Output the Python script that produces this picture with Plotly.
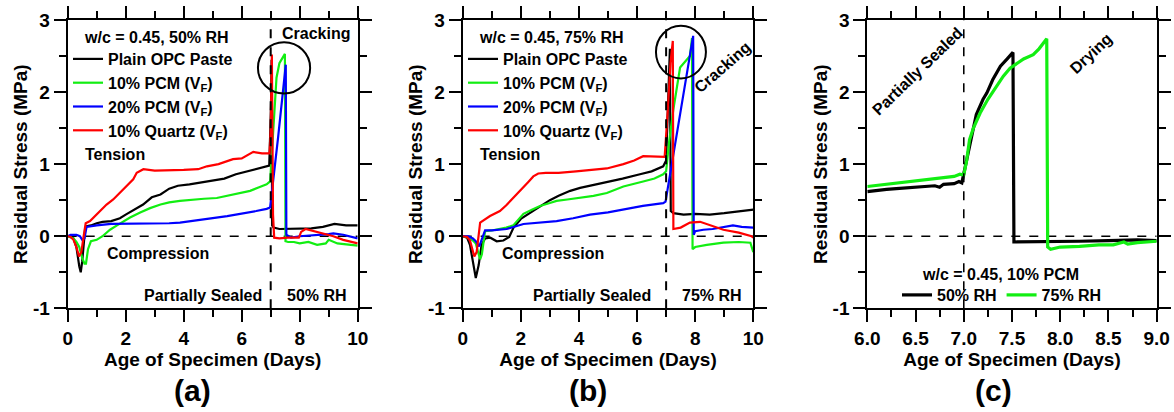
import plotly.graph_objects as go

# ---------------- data: residual stress (MPa) vs age (days) ----------------
# (a) w/c = 0.45, drying at 50% RH after 7 days
a_opc_x = [0, 0.1, 0.2, 0.3, 0.4, 0.45, 0.5, 0.55, 0.6, 0.65, 0.8, 1.0, 1.2, 1.5, 1.8, 2.0, 2.3,
           2.6, 2.9, 3.2, 3.5, 3.8, 4.2, 4.6, 5.0, 5.4, 5.8, 6.2, 6.6, 6.95, 7.01, 7.03, 7.05,
           7.1, 7.3, 7.6, 8.0, 8.4, 8.8, 9.2, 9.6, 10]
a_opc_y = [0, 0, -0.03, -0.15, -0.42, -0.5, -0.35, -0.1, 0.1, 0.14, 0.15, 0.18, 0.2, 0.21, 0.25,
           0.3, 0.37, 0.44, 0.54, 0.58, 0.66, 0.7, 0.72, 0.75, 0.78, 0.8, 0.86, 0.9, 0.94, 0.98,
           1.8, 2.45, 0.15, 0.12, 0.1, 0.1, 0.1, 0.11, 0.13, 0.17, 0.15, 0.15]

a_pcm10_x = [0, 0.2, 0.3, 0.4, 0.5, 0.58, 0.63, 0.7, 0.8, 1.0, 1.2, 1.46, 1.7, 1.9, 2.15, 2.5,
             2.84, 3.2, 3.5, 3.87, 4.3, 4.7, 5.14, 5.5, 5.9, 6.29, 6.6, 6.86, 6.98, 7.05, 7.1,
             7.2, 7.3, 7.4, 7.49, 7.51, 7.6, 7.8, 8.0, 8.3, 8.6, 8.9, 9.0, 9.3, 9.6, 10]
a_pcm10_y = [0, -0.03, -0.08, -0.15, -0.3, -0.38, -0.38, -0.18, -0.07, -0.05, 0.0, 0.09, 0.15,
             0.2, 0.26, 0.33, 0.39, 0.44, 0.47, 0.49, 0.51, 0.52, 0.53, 0.56, 0.6, 0.63, 0.68,
             0.72, 0.76, 1.2, 1.6, 2.2, 2.4, 2.47, 2.53, -0.07, -0.08, -0.08, -0.1, -0.08, -0.12,
             -0.1, -0.05, -0.1, -0.11, -0.13]

a_pcm20_x = [0, 0.1, 0.3, 0.42, 0.5, 0.58, 0.65, 0.8, 1.0, 1.5, 2.0, 2.5, 3.0, 3.5, 3.87, 4.5,
             5.0, 5.5, 6.0, 6.5, 6.86, 6.98, 7.26, 7.52, 7.54, 7.7, 8.0, 8.5, 9.0, 9.16, 9.5, 10]
a_pcm20_y = [0, 0.02, 0.02, 0.0, -0.05, -0.03, 0.13, 0.14, 0.15, 0.17, 0.17, 0.17, 0.17, 0.18,
             0.19, 0.22, 0.25, 0.28, 0.31, 0.35, 0.38, 0.4, 1.39, 2.38, 0.02, -0.02, 0.0, 0.01,
             0.03, 0.04, 0.02, -0.03]

a_quartz_x = [0, 0.1, 0.2, 0.3, 0.39, 0.47, 0.55, 0.62, 0.77, 1.0, 1.34, 1.57, 1.92, 2.26, 2.38,
              2.61, 3.0, 3.5, 4.0, 4.5, 4.8, 5.2, 5.7, 6.0, 6.4, 6.7, 6.96, 7.0, 7.04, 7.08,
              7.12, 7.3, 7.6, 7.97, 8.05, 8.2, 8.5, 9.16, 9.5, 10]
a_quartz_y = [0, -0.01, -0.05, -0.15, -0.28, -0.22, 0.0, 0.18, 0.21, 0.3, 0.44, 0.51, 0.65, 0.79,
              0.88, 0.93, 0.91, 0.91, 0.92, 0.93, 0.97, 1.0, 1.07, 1.08, 1.17, 1.15, 1.15, 1.5,
              2.52, 0.3, -0.02, -0.03, -0.02, -0.02, 0.06, 0.1, 0.07, 0.0, -0.05, -0.1]

# (b) w/c = 0.45, drying at 75% RH after 7 days
b_opc_x = [0, 0.15, 0.25, 0.35, 0.45, 0.55, 0.65, 0.77, 0.95, 1.17, 1.4, 1.6, 1.75, 2.0, 2.3,
           2.66, 3.0, 3.3, 3.7, 4.04, 4.5, 4.96, 5.5, 6.1, 6.5, 6.9, 7.0, 7.13, 7.16, 7.25,
           7.6, 8.0, 8.5, 9.0, 9.5, 10]
b_opc_y = [0, -0.02, -0.12, -0.35, -0.58, -0.4, -0.12, -0.03, -0.02, -0.07, -0.06, -0.01, 0.12,
           0.24, 0.32, 0.42, 0.5, 0.56, 0.63, 0.67, 0.71, 0.76, 0.8, 0.86, 0.9, 0.97, 1.05, 2.6,
           0.35, 0.32, 0.3, 0.31, 0.3, 0.32, 0.34, 0.37]

b_pcm10_x = [0, 0.2, 0.35, 0.45, 0.55, 0.6, 0.66, 0.77, 1.0, 1.28, 1.5, 1.74, 2.09, 2.4, 2.66,
             3.0, 3.23, 3.6, 4.04, 4.5, 4.96, 5.53, 6.21, 6.6, 6.9, 7.0, 7.1, 7.25, 7.48, 7.6,
             7.82, 7.89, 7.91, 8.0, 8.4, 8.97, 9.5, 9.9, 10]
b_pcm10_y = [0, -0.02, -0.06, -0.1, -0.25, -0.32, -0.25, 0.07, 0.08, 0.1, 0.12, 0.15, 0.31, 0.37,
             0.42, 0.46, 0.49, 0.51, 0.53, 0.56, 0.6, 0.69, 0.76, 0.8, 0.86, 0.9, 1.3, 1.76,
             2.34, 2.4, 2.5, 2.75, -0.18, -0.15, -0.12, -0.09, -0.08, -0.09, -0.22]

b_pcm20_x = [0, 0.2, 0.35, 0.45, 0.57, 0.65, 0.77, 1.0, 1.51, 2.09, 2.6, 3.23, 3.8, 4.38, 5.0,
             5.53, 6.2, 6.9, 6.98, 7.93, 7.95, 8.0, 8.28, 8.6, 8.97, 9.3, 9.6, 10]
b_pcm20_y = [0, 0.0, -0.03, -0.07, -0.14, -0.05, 0.08, 0.08, 0.1, 0.17, 0.19, 0.21, 0.25, 0.3,
             0.33, 0.37, 0.42, 0.46, 0.48, 2.78, 0.02, 0.07, 0.09, 0.1, 0.13, 0.15, 0.13, 0.12]

b_quartz_x = [0, 0.15, 0.25, 0.32, 0.4, 0.48, 0.55, 0.6, 0.94, 1.28, 1.5, 1.74, 2.09, 2.25, 2.43,
              2.6, 2.86, 3.3, 3.9, 4.5, 4.96, 5.53, 5.9, 6.21, 6.6, 6.95, 7.05, 7.15, 7.23,
              7.25, 7.5, 7.82, 8.17, 8.5, 8.97, 9.5, 9.94, 10]
b_quartz_y = [0, -0.01, -0.06, -0.15, -0.28, -0.22, 0.0, 0.19, 0.28, 0.35, 0.43, 0.53, 0.67,
              0.75, 0.83, 0.87, 0.88, 0.88, 0.9, 0.92, 0.94, 1.0, 1.05, 1.11, 1.1, 1.1, 1.7,
              2.4, 2.71, 0.1, 0.12, 0.19, 0.2, 0.15, 0.09, 0.05, 0.0, -0.02]

# (c) w/c = 0.45, 10% PCM: 50% RH vs 75% RH around the cracking event
c_rh50_x = [6.0, 6.05, 6.1, 6.2, 6.3, 6.4, 6.48, 6.6, 6.7, 6.75, 6.79, 6.9, 6.95, 6.98, 7.03,
            7.08, 7.13, 7.2, 7.24, 7.3, 7.38, 7.45, 7.51, 7.52, 7.7, 7.9, 8.2, 8.5, 8.8, 9.0]
c_rh50_y = [0.62, 0.63, 0.64, 0.65, 0.66, 0.67, 0.67, 0.68, 0.7, 0.68, 0.72, 0.73, 0.76, 0.74,
            1.07, 1.38, 1.69, 1.9, 1.99, 2.17, 2.36, 2.46, 2.55, -0.08, -0.08, -0.07, -0.07,
            -0.06, -0.05, -0.06]

c_rh75_x = [6.0, 6.2, 6.4, 6.6, 6.8, 6.9, 6.96, 7.0, 7.03, 7.06, 7.1, 7.17, 7.25, 7.34, 7.41,
            7.48, 7.55, 7.62, 7.72, 7.78, 7.86, 7.87, 7.9, 7.95, 8.0, 8.2, 8.4, 8.55, 8.66, 8.7,
            8.8, 9.0]
c_rh75_y = [0.69, 0.72, 0.75, 0.78, 0.81, 0.83, 0.86, 0.85, 1.05, 1.34, 1.5, 1.71, 1.9, 2.08,
            2.22, 2.33, 2.4, 2.46, 2.52, 2.6, 2.74, -0.15, -0.18, -0.17, -0.15, -0.14, -0.12,
            -0.12, -0.08, -0.11, -0.09, -0.07]

# stress axis ticks
stress_ticks = [-1, 0, 1, 2, 3]
stress_labels = ["-1", "0", "1", "2", "3"]

# reference lines and highlight circles (data units)
ZERO_STRESS = 0
SEAL_END_DAY = 7
crack_circle_a = dict(x0=6.56, x1=8.36, y0=1.98, y1=2.69)
crack_circle_b = dict(x0=6.65, x1=8.37, y0=2.19, y1=2.92)

# ---------------- styling ----------------
FONT = "Liberation Sans, Arial, sans-serif"
BLACK, GREEN, BLUE, RED = "#000000", "#12ee12", "#0000ff", "#ff0000"
W, H = 1174, 412


def fx(p):
    return p / W


def fy(p):
    return 1 - p / H


fig = go.Figure()

series_ab = [
    ("Plain OPC Paste", BLACK),
    ("10% PCM (V<sub>F</sub>)", GREEN),
    ("20% PCM (V<sub>F</sub>)", BLUE),
    ("10% Quartz (V<sub>F</sub>)", RED),
]
panel_a = [(a_opc_x, a_opc_y), (a_pcm10_x, a_pcm10_y), (a_pcm20_x, a_pcm20_y), (a_quartz_x, a_quartz_y)]
panel_b = [(b_opc_x, b_opc_y), (b_pcm10_x, b_pcm10_y), (b_pcm20_x, b_pcm20_y), (b_quartz_x, b_quartz_y)]

for (name, col), (xs, ys) in zip(series_ab, panel_a):
    fig.add_trace(go.Scatter(x=xs, y=ys, mode="lines", name=name, line=dict(color=col, width=2.2),
                             xaxis="x", yaxis="y", legend="legend"))
for (name, col), (xs, ys) in zip(series_ab, panel_b):
    fig.add_trace(go.Scatter(x=xs, y=ys, mode="lines", name=name, line=dict(color=col, width=2.2),
                             xaxis="x2", yaxis="y2", legend="legend2"))
fig.add_trace(go.Scatter(x=c_rh50_x, y=c_rh50_y, mode="lines", name="50% RH",
                         line=dict(color=BLACK, width=3.2), xaxis="x3", yaxis="y3", legend="legend3"))
fig.add_trace(go.Scatter(x=c_rh75_x, y=c_rh75_y, mode="lines", name="75% RH",
                         line=dict(color=GREEN, width=3.2), xaxis="x3", yaxis="y3", legend="legend3"))

tickfont = dict(family=FONT, size=19, color="black", weight="bold")
titlefont = dict(family=FONT, size=19, color="black", weight="bold")


def axis_style(**kw):
    d = dict(showline=True, linewidth=2, linecolor="black", mirror="allticks",
             ticks="outside", ticklen=12, tickwidth=2, tickcolor="black",
             showgrid=False, zeroline=False, tickfont=tickfont, automargin=False,
             minor=dict(ticks="outside", ticklen=7, tickwidth=2, tickcolor="black", showgrid=False))
    d.update(kw)
    return d


def stress_axis(**kw):
    return axis_style(range=[-1, 3], tickmode="array", tickvals=stress_ticks, ticktext=stress_labels,
                      minor_dtick=0.5, minor_tick0=0, title=ytitle, **kw)


y_dom = [fy(308.3), fy(20)]
x_doms = [[fx(67.7), fx(357.7)], [fx(462.7), fx(753.3)], [fx(867.3), fx(1156.7)]]

xtitle = dict(text="Age of Specimen (Days)", font=titlefont, standoff=2)
ytitle = dict(text="Residual Stress (MPa)", font=titlefont, standoff=0)

fig.update_layout(
    width=W, height=H, margin=dict(l=0, r=0, t=0, b=0),
    paper_bgcolor="white", plot_bgcolor="white",
    font=dict(family=FONT, color="black"),
    xaxis=axis_style(domain=x_doms[0], range=[0, 10], dtick=2, anchor="y", title=xtitle,
                     minor_dtick=1),
    yaxis=stress_axis(domain=y_dom, anchor="x"),
    xaxis2=axis_style(domain=x_doms[1], range=[0, 10], dtick=2, anchor="y2", title=xtitle,
                      minor_dtick=1),
    yaxis2=stress_axis(domain=y_dom, anchor="x2"),
    xaxis3=axis_style(domain=x_doms[2], range=[6, 9], dtick=0.5, tickformat=".1f", anchor="y3",
                      title=xtitle, minor_dtick=0.25),
    yaxis3=stress_axis(domain=y_dom, anchor="x3"),
    showlegend=True,
)

legend_common = dict(bgcolor="rgba(0,0,0,0)", borderwidth=0, itemwidth=30,
                     font=dict(family=FONT, size=16, color="black", weight="bold"),
                     xanchor="left", yanchor="top", tracegroupgap=0)
fig.update_layout(
    legend=dict(x=fx(68), y=fy(42), **legend_common),
    legend2=dict(x=fx(463), y=fy(42), **legend_common),
    legend3=dict(x=fx(897), y=fy(278), orientation="h", **legend_common),
)

# dashed reference lines
for xa, ya, xr in [("x", "y", [0, 10]), ("x2", "y2", [0, 10]), ("x3", "y3", [6, 9])]:
    fig.add_shape(type="line", xref=xa, yref=ya, x0=xr[0], x1=xr[1], y0=ZERO_STRESS, y1=ZERO_STRESS,
                  line=dict(color="black", width=1.6, dash="dash"), layer="below")
    fig.add_shape(type="line", xref=xa, yref=ya, x0=SEAL_END_DAY, x1=SEAL_END_DAY, y0=-1, y1=3,
                  line=dict(color="black", width=2 if xa != "x3" else 1.6, dash="dash"), layer="above")

fig.add_shape(type="circle", xref="x", yref="y", line=dict(color="black", width=2), **crack_circle_a)
fig.add_shape(type="circle", xref="x2", yref="y2", line=dict(color="black", width=2), **crack_circle_b)

ann_font = dict(family=FONT, size=16, color="black", weight="bold")


def note(text, x, y, xanchor="left", angle=0, size=16):
    f = dict(ann_font)
    f["size"] = size
    fig.add_annotation(text=text, xref="paper", yref="paper", x=fx(x), y=fy(y), xanchor=xanchor,
                       yanchor="middle", showarrow=False, font=f, textangle=angle)


# panel (a)
note("w/c = 0.45, 50% RH", 82, 38)
note("Cracking", 280, 34)
note("Tension", 83, 155)
note("Compression", 105, 254)
note("Partially Sealed", 264, 295, xanchor="right")
note("50% RH", 285, 295)
note("(a)", 192, 390, xanchor="center", size=30)
# panel (b)
note("w/c = 0.45, 75% RH", 477, 38)
note("Cracking", 722, 67, xanchor="center", angle=-41)
note("Tension", 478, 155)
note("Compression", 500, 254)
note("Partially Sealed", 653, 295, xanchor="right")
note("75% RH", 680, 295)
note("(b)", 588, 390, xanchor="center", size=30)
# panel (c)
note("Partially Sealed", 917, 71, xanchor="center", angle=-44)
note("Drying", 1091, 54, xanchor="center", angle=-43)
note("w/c = 0.45, 10% PCM", 1000, 274, xanchor="center")
note("(c)", 993, 390, xanchor="center", size=30)

fig.write_html("out.html")
